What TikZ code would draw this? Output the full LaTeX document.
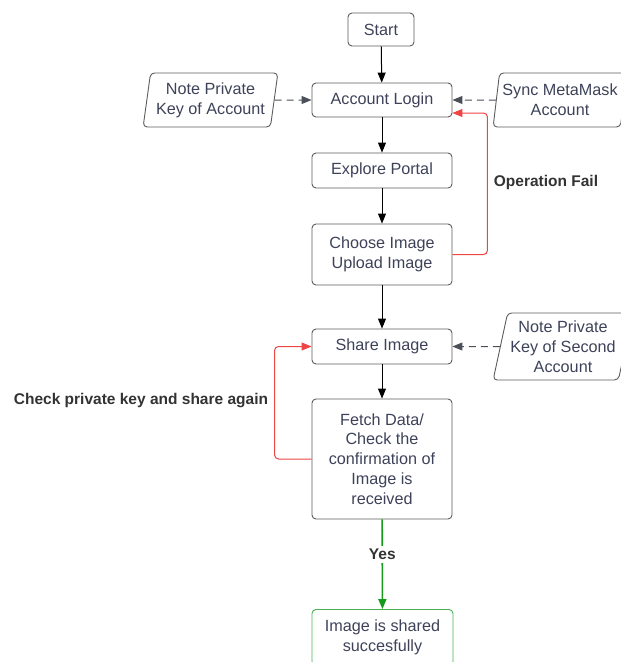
\documentclass[tikz,border=0pt]{standalone}
\usepackage{fontspec}
\setmainfont{Liberation Sans}
\usetikzlibrary{arrows.meta,shapes.geometric}
\definecolor{txt}{HTML}{3D4259}
\definecolor{edge}{HTML}{5C5C5C}
\definecolor{darr}{HTML}{4B4F58}
\definecolor{redl}{HTML}{EE4444}
\definecolor{greenl}{HTML}{169A1E}
\definecolor{greenb}{HTML}{4CAF50}
\definecolor{lbl}{HTML}{333333}
\begin{document}
\begin{tikzpicture}[x=1pt,y=-1pt,
  box/.style={draw=edge, line width=0.9pt, rounded corners=4pt, text=txt,
    font=\fontsize{16.2}{19.8}\selectfont, align=center, minimum width=140pt, inner sep=0pt},
  para/.style={trapezium, trapezium stretches=true, draw=edge, line width=0.9pt,
    rounded corners=4pt, text=txt, font=\fontsize{16.2}{19.8}\selectfont,
    align=center, inner sep=0pt},
  arr/.style={-{Triangle[length=10pt,width=8pt]}, line width=1pt, black},
  dasharr/.style={-{Triangle[length=10pt,width=8pt]}, line width=1pt, darr, dash pattern=on 7pt off 5pt},
  redarr/.style={-{Triangle[length=10pt,width=8pt]}, line width=1pt, redl, rounded corners=4pt},
  greenarr/.style={-{Triangle[length=10pt,width=8pt]}, line width=1.6pt, greenl},
  lblstyle/.style={text=lbl, font=\bfseries\fontsize{15.5}{18}\selectfont, inner sep=1pt}
]
\useasboundingbox (0,0) rectangle (621,662);

\node[box, minimum width=66pt, minimum height=33pt] (start) at (381,29.5) {Start};
\node[box, minimum height=34pt] (login) at (382,100) {Account Login};
\node[box, minimum height=35pt] (explore) at (382,170.5) {Explore Portal};
\node[box, minimum height=61pt] (choose) at (382,254.5) {Choose Image\\Upload Image};
\node[box, minimum height=35pt] (share) at (382,346.5) {Share Image};
\node[box, minimum height=120pt] (fetch) at (382,459) {Fetch Data/\\Check the\\confirmation of\\Image is\\received};
\node[box, draw=greenb, minimum width=141pt, minimum height=56pt] (done) at (382.5,637.5) {Image is shared\\succesfully};

\node[para, trapezium left angle=79, trapezium right angle=101, minimum width=135pt, minimum height=54pt] (nk1) at (210.5,100) {Note Private\\Key of Account};
\node[para, trapezium left angle=79, trapezium right angle=101, minimum width=134pt, minimum height=54pt] (sync) at (560,100) {Sync MetaMask\\Account};
\node[para, trapezium left angle=75, trapezium right angle=105, minimum width=140pt, minimum height=67pt] (nk2) at (563,346.5) {Note Private\\Key of Second\\Account};

\node[lblstyle] (opfail) at (546,182) {Operation Fail};
\node[lblstyle] (chk) at (141,401) {Check private key and share again};

\draw[arr] (start) -- (login);
\draw[arr] (login) -- (explore);
\draw[arr] (explore) -- (choose);
\draw[arr] (choose) -- (share);
\draw[arr] (share) -- (fetch);

\draw[dasharr] (nk1) -- (login);
\draw[dasharr] (sync) -- (login);
\draw[dasharr] (nk2) -- (share);

\draw[redarr] (choose.east) -- ++(35,0) |- ([yshift=-13pt]login.east);
\draw[redarr] (fetch.west) -- ++(-37,0) |- (share.west);

\draw[greenarr] (fetch) -- node[pos=0.39, fill=white, text=lbl, font=\bfseries\fontsize{15.5}{18}\selectfont, inner sep=3pt] (yes) {Yes} (done);
\end{tikzpicture}
\end{document}
